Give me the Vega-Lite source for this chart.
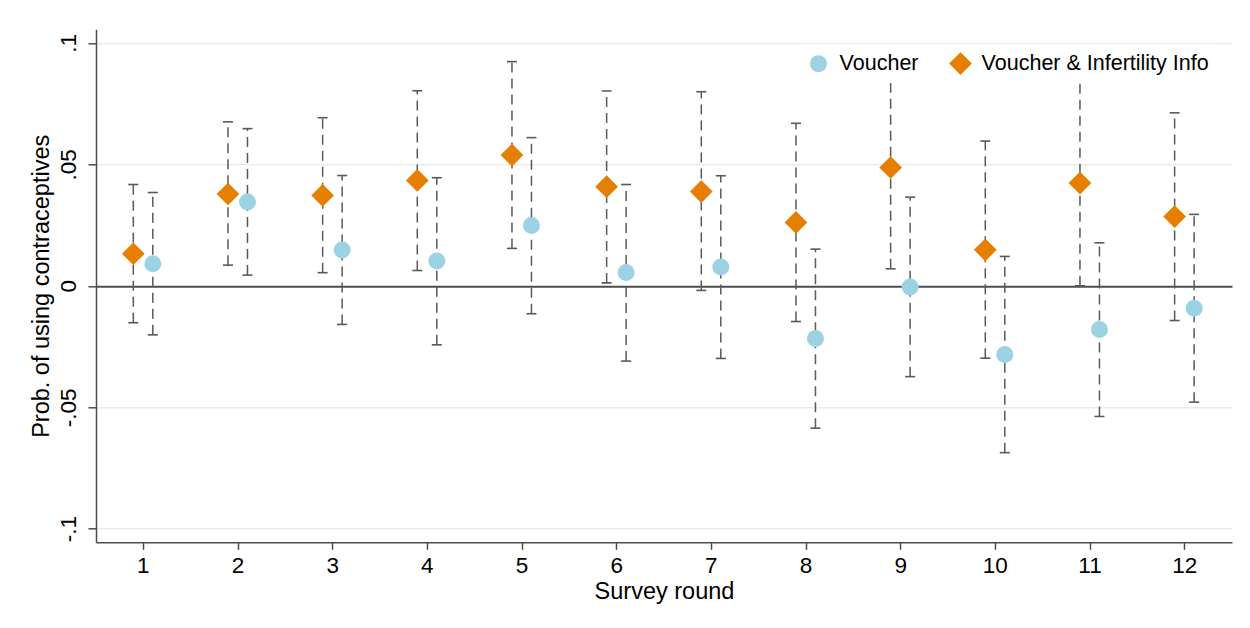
{
  "$schema": "https://vega.github.io/schema/vega-lite/v6.json",
  "width": 1136,
  "height": 513,
  "autosize": {"type": "none"},
  "padding": {"left": 96, "top": 29.3, "right": 18, "bottom": 85.7},
  "background": "white",
  "config": {
    "view": {"stroke": null},
    "font": "Liberation Sans",
    "legend": {
      "orient": "none",
      "legendX": 703,
      "legendY": 14.7,
      "direction": "horizontal",
      "columns": 2,
      "padding": 8,
      "fillColor": "white",
      "strokeColor": null,
      "labelFontSize": 21.5,
      "labelFont": "Liberation Sans",
      "labelColor": "#000000",
      "labelOffset": 9.6,
      "labelLimit": 400,
      "columnPadding": 30,
      "symbolStrokeWidth": 0,
      "symbolOpacity": 1
    }
  },
  "data": {
    "values": [
      {"round": 1, "group": "Voucher & Infertility Info", "est": 0.0132, "lo": -0.0152, "hi": 0.0417},
      {"round": 2, "group": "Voucher & Infertility Info", "est": 0.0378, "lo": 0.0085, "hi": 0.0675},
      {"round": 3, "group": "Voucher & Infertility Info", "est": 0.0372, "lo": 0.0054, "hi": 0.0692},
      {"round": 4, "group": "Voucher & Infertility Info", "est": 0.0434, "lo": 0.0063, "hi": 0.0803},
      {"round": 5, "group": "Voucher & Infertility Info", "est": 0.0538, "lo": 0.0154, "hi": 0.0923},
      {"round": 6, "group": "Voucher & Infertility Info", "est": 0.0408, "lo": 0.0012, "hi": 0.0802},
      {"round": 7, "group": "Voucher & Infertility Info", "est": 0.0388, "lo": -0.0019, "hi": 0.0799},
      {"round": 8, "group": "Voucher & Infertility Info", "est": 0.0261, "lo": -0.0147, "hi": 0.0669},
      {"round": 9, "group": "Voucher & Infertility Info", "est": 0.0487, "lo": 0.0070, "hi": 0.0904},
      {"round": 10, "group": "Voucher & Infertility Info", "est": 0.0148, "lo": -0.0298, "hi": 0.0596},
      {"round": 11, "group": "Voucher & Infertility Info", "est": 0.0423, "lo": 0.0000, "hi": 0.0846},
      {"round": 12, "group": "Voucher & Infertility Info", "est": 0.0285, "lo": -0.0143, "hi": 0.0712},
      {"round": 1, "group": "Voucher", "est": 0.0091, "lo": -0.0202, "hi": 0.0384},
      {"round": 2, "group": "Voucher", "est": 0.0345, "lo": 0.0044, "hi": 0.0647},
      {"round": 3, "group": "Voucher", "est": 0.0147, "lo": -0.0159, "hi": 0.0454},
      {"round": 4, "group": "Voucher", "est": 0.0102, "lo": -0.0243, "hi": 0.0445},
      {"round": 5, "group": "Voucher", "est": 0.0248, "lo": -0.0115, "hi": 0.0610},
      {"round": 6, "group": "Voucher", "est": 0.0055, "lo": -0.0310, "hi": 0.0417},
      {"round": 7, "group": "Voucher", "est": 0.0077, "lo": -0.0299, "hi": 0.0453},
      {"round": 8, "group": "Voucher", "est": -0.0217, "lo": -0.0586, "hi": 0.0151},
      {"round": 9, "group": "Voucher", "est": -0.0005, "lo": -0.0374, "hi": 0.0365},
      {"round": 10, "group": "Voucher", "est": -0.0283, "lo": -0.0687, "hi": 0.0121},
      {"round": 11, "group": "Voucher", "est": -0.0180, "lo": -0.0538, "hi": 0.0177},
      {"round": 12, "group": "Voucher", "est": -0.0092, "lo": -0.0479, "hi": 0.0294}
    ]
  },
  "encoding": {
    "x": {
      "field": "round",
      "type": "ordinal",
      "title": "Survey round",
      "scale": {"type": "band", "paddingInner": 0, "paddingOuter": 0},
      "axis": {
        "grid": false,
        "labelAngle": 0,
        "labelFlush": false,
        "labelOverlap": false,
        "labelFontSize": 22.5,
        "labelColor": "#000000",
        "labelPadding": 5,
        "tickSize": 7,
        "tickWidth": 1.5,
        "tickColor": "#4d4d4d",
        "domainColor": "#4d4d4d",
        "domainWidth": 1.5,
        "titleFontSize": 23.5,
        "titleFontWeight": "normal",
        "titleColor": "#000000",
        "titleBaseline": "alphabetic",
        "titleAlign": "center",
        "titleX": 568,
        "titleY": 56.2
      }
    },
    "xOffset": {
      "field": "group",
      "type": "nominal",
      "scale": {"type": "point", "domain": ["Voucher & Infertility Info", "Voucher"], "range": [37.3, 56.8], "padding": 0}
    }
  },
  "layer": [
    {
      "mark": {"type": "rule", "color": "#595959", "strokeWidth": 1.5, "strokeDash": [10, 6]},
      "encoding": {
        "y": {
          "field": "lo",
          "type": "quantitative",
          "title": "Prob. of using contraceptives",
          "scale": {"domain": [-0.1056, 0.1056], "nice": false, "zero": false},
          "axis": {
            "values": [-0.1, -0.05, 0, 0.05, 0.1],
            "labelExpr": "datum.value > 0 ? replace(format(datum.value, '.2~f'), '0.', '.') : (datum.value == 0 ? '0' : '-' + replace(format(-datum.value, '.2~f'), '0.', '.'))",
            "labelAngle": -90,
            "labelAlign": "center",
            "labelBaseline": "alphabetic",
            "labelPadding": 13,
            "labelFlush": false,
            "labelOverlap": false,
            "labelFontSize": 22.5,
            "labelColor": "#000000",
            "tickSize": 8,
            "tickWidth": 1.5,
            "tickColor": "#4d4d4d",
            "domainColor": "#4d4d4d",
            "domainWidth": 1.5,
            "grid": true,
            "gridColor": {"condition": {"test": "datum.value === 0", "value": "#4d4d4d"}, "value": "#ebebeb"},
            "gridWidth": {"condition": {"test": "datum.value === 0", "value": 2}, "value": 1.5},
            "titleFontSize": 23.5,
            "titleFontWeight": "normal",
            "titleColor": "#000000",
            "titleAngle": 270,
            "titleAlign": "center",
            "titleBaseline": "alphabetic",
            "titleX": -47.5,
            "titleY": 256.5
          }
        },
        "y2": {"field": "hi"}
      }
    },
    {
      "mark": {"type": "tick", "orient": "horizontal", "color": "#595959", "size": 10, "thickness": 1.6, "opacity": 1},
      "encoding": {"y": {"field": "lo", "type": "quantitative", "title": "Prob. of using contraceptives"}}
    },
    {
      "mark": {"type": "tick", "orient": "horizontal", "color": "#595959", "size": 10, "thickness": 1.6, "opacity": 1},
      "encoding": {"y": {"field": "hi", "type": "quantitative", "title": "Prob. of using contraceptives"}}
    },
    {
      "mark": {"type": "point", "filled": true, "opacity": 1, "strokeWidth": 0},
      "encoding": {
        "y": {"field": "est", "type": "quantitative", "title": "Prob. of using contraceptives"},
        "color": {
          "field": "group",
          "type": "nominal",
          "scale": {"domain": ["Voucher", "Voucher & Infertility Info"], "range": ["#9BD3E5", "#E67E00"]},
          "legend": {"title": null}
        },
        "shape": {
          "field": "group",
          "type": "nominal",
          "scale": {"domain": ["Voucher", "Voucher & Infertility Info"], "range": ["circle", "diamond"]},
          "legend": {"title": null}
        },
        "size": {
          "field": "group",
          "type": "nominal",
          "scale": {"domain": ["Voucher", "Voucher & Infertility Info"], "range": [289, 515]},
          "legend": {"title": null}
        }
      }
    }
  ]
}
